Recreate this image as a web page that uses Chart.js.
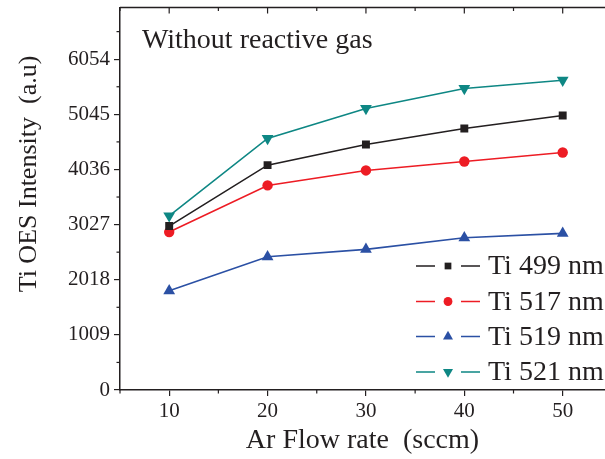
<!DOCTYPE html>
<html>
<head>
<meta charset="utf-8">
<script src="https://cdn.jsdelivr.net/npm/chart.js@4.4.1/dist/chart.umd.min.js"></script>
<style>
  html, body { margin: 0; padding: 0; background: #fff; }
  #wrap { width: 605px; height: 459px; }
</style>
</head>
<body>
<div id="wrap"><canvas id="oesChart" width="605" height="459"></canvas></div>
<script>
// ---- data ----
const flowRates = [10, 20, 30, 40, 50];
const ti499 = [3000, 4115, 4494, 4786, 5025];
const ti517 = [2890, 3744, 4018, 4182, 4347];
const ti519 = [1816, 2438, 2573, 2786, 2866];
const ti521 = [3188, 4603, 5152, 5518, 5670];

const seriesNames = ["Ti 499 nm", "Ti 517 nm", "Ti 519 nm", "Ti 521 nm"];
const xTickValues = [10, 20, 30, 40, 50];
const yTickValues = [0, 1009, 2018, 3027, 4036, 5045, 6054];

const AXIS = "#231f20";
const SERIF = "'Liberation Serif', 'DejaVu Serif', serif";

function toPoints(values) {
  return flowRates.map((x, i) => ({ x: x, y: values[i] }));
}

function makeSet(label, values, color, style, radius, rotation) {
  return {
    label: label,
    data: toPoints(values),
    borderColor: color,
    backgroundColor: color,
    borderWidth: 1.6,
    pointStyle: style,
    pointRadius: radius,
    pointRotation: rotation,
    pointBorderWidth: 0,
    pointBackgroundColor: color,
    tension: 0,
  };
}

const datasets = [
  makeSet(seriesNames[0], ti499, "#231f20", "rect", 5.6, 0),
  makeSet(seriesNames[1], ti517, "#ed1c24", "circle", 5.2, 0),
  makeSet(seriesNames[2], ti519, "#2b50a4", "triangle", 6.8, 0),
  makeSet(seriesNames[3], ti521, "#0e8784", "triangle", 6.8, 180),
];

// minor ticks, top frame, y title, inset title and legend
const decorPlugin = {
  id: "decor",
  afterDraw(chart) {
    const ctx = chart.ctx;
    const area = chart.chartArea;
    const xs = chart.scales.x;
    const ys = chart.scales.y;
    ctx.save();
    ctx.strokeStyle = AXIS;
    ctx.lineWidth = 1.5;

    // top frame line
    ctx.beginPath();
    ctx.moveTo(area.left, area.top);
    ctx.lineTo(area.right, area.top);
    ctx.stroke();

    // minor ticks
    ctx.lineWidth = 1.2;
    for (let v = 5; v <= xs.max; v += 10) {
      const px = xs.getPixelForValue(v);
      ctx.beginPath();
      ctx.moveTo(px, area.bottom);
      ctx.lineTo(px, area.bottom + 3.5);
      ctx.stroke();
      ctx.beginPath();
      ctx.moveTo(px, area.top);
      ctx.lineTo(px, area.top + 3.5);
      ctx.stroke();
    }
    for (let i = 0; i < yTickValues.length; i++) {
      const v = yTickValues[i] + 504.5;
      if (v > ys.max) break;
      const py = ys.getPixelForValue(v);
      ctx.beginPath();
      ctx.moveTo(area.left, py);
      ctx.lineTo(area.left - 3.5, py);
      ctx.stroke();
    }
    // top tick marks for majors
    xTickValues.forEach((v) => {
      const px = xs.getPixelForValue(v);
      ctx.beginPath();
      ctx.moveTo(px, area.top);
      ctx.lineTo(px, area.top + 6);
      ctx.stroke();
    });

    // y axis title (sits above the axis centre in the original)
    ctx.fillStyle = AXIS;
    ctx.save();
    ctx.translate(36, 174);
    ctx.rotate(-Math.PI / 2);
    ctx.font = "26px " + SERIF;
    ctx.textAlign = "center";
    ctx.textBaseline = "alphabetic";
    ctx.fillText("Ti OES Intensity  (a.u)", 0, 0);
    ctx.restore();

    // inset title
    ctx.font = "28px " + SERIF;
    ctx.textAlign = "left";
    ctx.textBaseline = "alphabetic";
    ctx.fillText("Without reactive gas", 142, 48);

    // legend
    const rowY = [266, 301.5, 336.5, 372];
    ctx.font = "28px " + SERIF;
    ctx.textBaseline = "middle";
    datasets.forEach((ds, i) => {
      const y = rowY[i];
      ctx.strokeStyle = ds.borderColor;
      ctx.lineWidth = 1.6;
      ctx.beginPath();
      ctx.moveTo(416, y);
      ctx.lineTo(435, y);
      ctx.moveTo(461, y);
      ctx.lineTo(480, y);
      ctx.stroke();
      ctx.fillStyle = ds.borderColor;
      Chart.helpers.drawPoint(ctx, {
        pointStyle: ds.pointStyle,
        rotation: ds.pointRotation,
        radius: ds.pointRadius * 0.85,
        borderWidth: 0,
      }, 448, y);
      ctx.fillStyle = AXIS;
      ctx.fillText(ds.label, 488, y + 1);
    });
    ctx.restore();
  },
};

const chart = new Chart(document.getElementById("oesChart"), {
  type: "line",
  data: { datasets: datasets },
  options: {
    responsive: false,
    animation: false,
    layout: { autoPadding: false, padding: { top: 7.5, right: 0, left: 0, bottom: 0 } },
    plugins: { legend: { display: false }, tooltip: { enabled: false } },
    scales: {
      x: {
        type: "linear",
        min: 5,
        max: 54.3,
        afterBuildTicks: (scale) => {
          scale.ticks = xTickValues.map((v) => ({ value: v }));
        },
        afterFit: (scale) => { scale.height = 69; },
        grid: { drawOnChartArea: false, drawTicks: true, tickLength: 6, color: AXIS, lineWidth: 1.2 },
        border: { display: true, color: AXIS, width: 1.5 },
        ticks: { color: AXIS, font: { family: SERIF, size: 21 }, padding: 3, maxRotation: 0,
                 callback: (v) => String(v) },
        title: {
          display: true,
          text: "Ar Flow rate  (sccm)",
          color: AXIS,
          font: { family: SERIF, size: 28 },
          padding: { top: 0, bottom: 2 },
        },
      },
      y: {
        min: 0,
        max: 7000,
        afterBuildTicks: (scale) => {
          scale.ticks = yTickValues.map((v) => ({ value: v }));
        },
        afterFit: (scale) => {
          scale.width = 120;
          scale.paddingTop = 0;
          scale.paddingBottom = 0;
        },
        grid: { drawOnChartArea: false, drawTicks: true, tickLength: 6, color: AXIS, lineWidth: 1.2 },
        border: { display: true, color: AXIS, width: 1.5 },
        ticks: { color: AXIS, font: { family: SERIF, size: 21, lineHeight: 0.6 }, padding: 4,
                 callback: (v) => String(v) },
        title: { display: false },
      },
    },
  },
  plugins: [decorPlugin],
});
</script>
</body>
</html>
